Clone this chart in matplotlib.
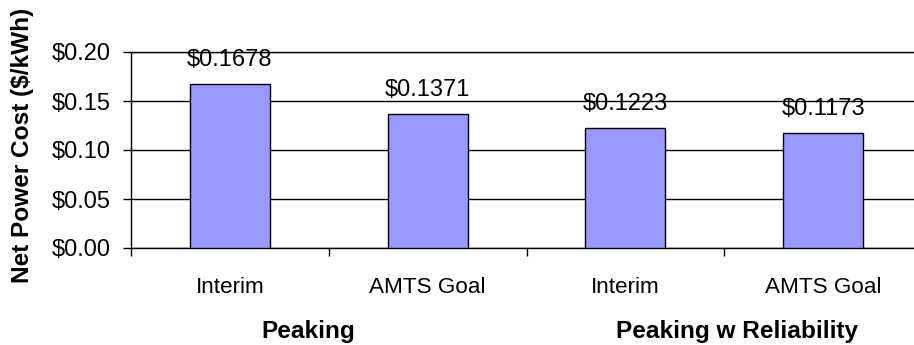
import matplotlib
matplotlib.use("Agg")
import matplotlib.pyplot as plt
from matplotlib.ticker import FixedLocator, NullFormatter

# Net power cost by scenario
categories = ["Interim", "AMTS Goal", "Interim", "AMTS Goal"]
groups = ["Peaking", "Peaking w Reliability"]
costs = [0.1678, 0.1371, 0.1223, 0.1173]
yticks = [0.00, 0.05, 0.10, 0.15, 0.20]

plt.rcParams["font.family"] = ["Liberation Sans", "DejaVu Sans"]

fig = plt.figure(figsize=(9.14, 3.45), dpi=100)
ax = fig.add_axes([131 / 914, 97 / 345, 791 / 914, 196 / 345])

x = list(range(len(categories)))
ax.bar(x, costs, width=0.405, color="#9999FF", edgecolor="black",
       linewidth=1.0, zorder=3)

# value labels above bars
for xi, v in zip(x, costs):
    ax.annotate(f"${v:.4f}", (xi, v), xytext=(0, 13), textcoords="offset points",
                ha="center", va="baseline", fontsize=17, zorder=4)

ax.set_xlim(-0.5, len(categories) - 0.5)
ax.set_ylim(0, 0.20)

# y axis
ax.set_yticks(yticks)
ax.set_yticklabels([f"${t:.2f}" for t in yticks])
ax.tick_params(axis="y", direction="out", length=6, width=1, pad=8.5,
               labelsize=17, color="black")
ax.yaxis.grid(True, color="black", linewidth=1.0, zorder=0)
ax.set_axisbelow(True)

# x axis: ticks at category boundaries, labels at category centres
bounds = [i - 0.5 for i in range(len(categories) + 1)]
ax.xaxis.set_major_locator(FixedLocator(bounds))
ax.xaxis.set_major_formatter(NullFormatter())
ax.tick_params(axis="x", direction="out", length=6, width=1, color="black")
for xi, lab in zip(x, categories):
    ax.text(xi, -0.228, lab, transform=ax.get_xaxis_transform(),
            ha="center", va="baseline", fontsize=16.2)

# group labels
for gx, g in zip([0.2238, 0.7656], groups):
    ax.text(gx, -0.459, g, transform=ax.transAxes, ha="center",
            va="baseline", fontsize=17.6, fontweight="bold")

for side in ["left", "bottom", "top"]:
    ax.spines[side].set_color("black")
    ax.spines[side].set_linewidth(1.0)
ax.spines["right"].set_visible(False)

fig.text(23 / 914, 1 - 145 / 345, "Net Power Cost ($/kWh)", rotation=90,
         ha="center", va="center", fontsize=17.6, fontweight="bold")

fig.savefig("out.png", dpi=100, facecolor="white")
